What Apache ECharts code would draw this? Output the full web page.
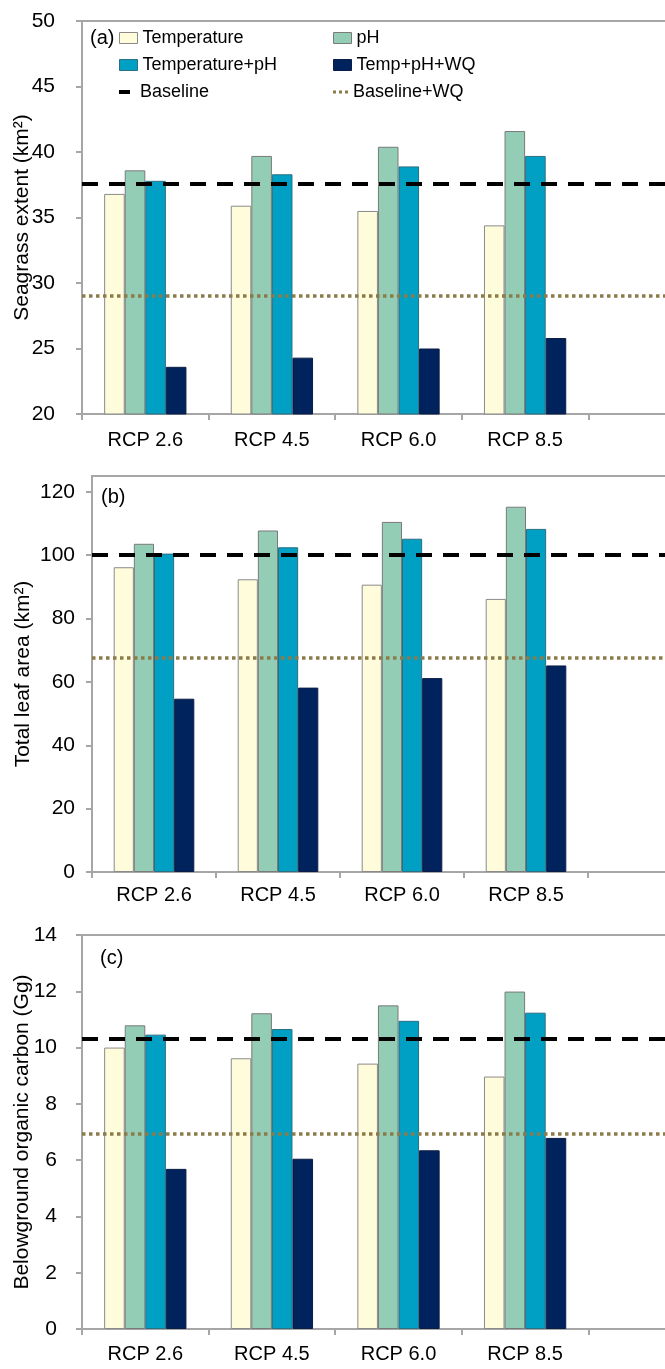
<!DOCTYPE html>
<html>
<head>
<meta charset="utf-8">
<style>
  html, body { margin: 0; padding: 0; background: #ffffff; overflow: hidden; width: 665px; height: 1369px; }
  #chart { width: 725px; height: 1369px; }
</style>
<script src="https://cdn.jsdelivr.net/npm/echarts@6/dist/echarts.min.js"></script>
</head>
<body>
<div id="chart"></div>
<script>
// ---------- data ----------
const categories = ['RCP 2.6', 'RCP 4.5', 'RCP 6.0', 'RCP 8.5'];
const seriesNames = ['Temperature', 'pH', 'Temperature+pH', 'Temp+pH+WQ'];
const lineNames = ['Baseline', 'Baseline+WQ'];

// (a) Seagrass extent (km²)
const tempA = [36.8, 35.9, 35.5, 34.4];
const phA   = [38.6, 39.7, 40.4, 41.6];
const tphA  = [37.8, 38.3, 38.9, 39.7];
const wqA   = [23.6, 24.3, 25.0, 25.8];
const baselineA   = 37.6;
const baselineWqA = 29.05;
const ticksA = [20, 25, 30, 35, 40, 45, 50];

// (b) Total leaf area (km²)
const tempB = [96.2, 92.4, 90.7, 86.2];
const phB   = [103.6, 107.8, 110.5, 115.3];
const tphB  = [100.5, 102.5, 105.2, 108.3];
const wqB   = [54.7, 58.2, 61.2, 65.2];
const baselineB   = 100;
const baselineWqB = 67.6;
const ticksB = [0, 20, 40, 60, 80, 100, 120];

// (c) Belowground organic carbon (Gg)
const tempC = [10.0, 9.62, 9.43, 8.97];
const phC   = [10.79, 11.22, 11.5, 11.99];
const tphC  = [10.46, 10.66, 10.95, 11.24];
const wqC   = [5.69, 6.05, 6.35, 6.79];
const baselineC   = 10.33;
const baselineWqC = 6.95;
const ticksC = [0, 2, 4, 6, 8, 10, 12, 14];

const panelLetters = ['(a)', '(b)', '(c)'];
const axisNames = ['Seagrass extent (km\u00B2)', 'Total leaf area (km\u00B2)', 'Belowground organic carbon (Gg)'];

// ---------- styling ----------
const FONT = 'Liberation Sans, Arial, sans-serif';
const GREY = '#A6A6A6';
const barColors = ['#FFFCDC', '#94CDB6', '#00A0C4', '#00235D'];
const barBorders = ['#8a8a8a', '#7a7a7a', '#2a6f82', '#0b1d45'];
const baseColor = '#000000';
const baseWqColor = '#8C7B4A';

const panels = [
  { bars: [tempA, phA, tphA, wqA], base: baselineA, baseWq: baselineWqA, ticks: ticksA,
    min: 20, max: 50, interval: 5,
    grid: { left: 82, top: 21, width: 633, height: 393 }, labelMargin: 27, nameGap: 49, xMargin: 16,
    letter: { dx: 8, dy: 7 } },
  { bars: [tempB, phB, tphB, wqB], base: baselineB, baseWq: baselineWqB, ticks: ticksB,
    min: 0, max: 125, interval: 20,
    grid: { left: 92, top: 476, width: 620, height: 396 }, labelMargin: 17, nameGap: 58, xMargin: 13,
    letter: { dx: 9, dy: 11 } },
  { bars: [tempC, phC, tphC, wqC], base: baselineC, baseWq: baselineWqC, ticks: ticksC,
    min: 0, max: 14, interval: 2,
    grid: { left: 82, top: 935, width: 633, height: 394 }, labelMargin: 25, nameGap: 49, xMargin: 15,
    letter: { dx: 18, dy: 13 } }
];

// one extra empty slot: the original figure continues past the right edge
const axisCats = categories.concat(['']);

const grids = [], xAxes = [], yAxes = [], series = [], titles = [];
panels.forEach((p, i) => {
  grids.push(Object.assign({ show: true, borderColor: GREY, borderWidth: 2, backgroundColor: 'transparent',
    containLabel: false, outerBoundsMode: 'none' }, p.grid));
  xAxes.push({
    type: 'category', gridIndex: i, data: axisCats,
    axisLine: { show: true, lineStyle: { color: GREY, width: 2 } },
    axisTick: { show: true, interval: 0, length: 6, lineStyle: { color: GREY, width: 2 } },
    axisLabel: { interval: 0, color: '#000', fontSize: 20, fontFamily: FONT, margin: p.xMargin },
    splitLine: { show: false }
  });
  yAxes.push({
    type: 'value', gridIndex: i, min: p.min, max: p.max, interval: p.interval,
    name: axisNames[i], nameLocation: 'middle', nameGap: p.nameGap, nameMoveOverlap: false,
    nameTextStyle: { color: '#000', fontSize: 21, fontFamily: FONT },
    axisLine: { show: true, lineStyle: { color: GREY, width: 2 } },
    axisTick: { show: true, length: 6, lineStyle: { color: GREY, width: 2 }, customValues: p.ticks },
    axisLabel: { color: '#000', fontSize: 21, fontFamily: FONT, margin: p.labelMargin, customValues: p.ticks },
    splitLine: { show: false }
  });
  titles.push({
    text: panelLetters[i],
    left: p.grid.left + p.letter.dx,
    top: p.grid.top + p.letter.dy,
    padding: 0,
    textStyle: { color: '#000', fontSize: 20, fontWeight: 'normal', fontFamily: FONT }
  });
  p.bars.forEach((vals, k) => {
    series.push({
      name: seriesNames[k], type: 'bar', xAxisIndex: i, yAxisIndex: i,
      data: vals, barGap: '0%', barCategoryGap: '35%',
      itemStyle: { color: barColors[k], borderColor: barBorders[k], borderWidth: 1 },
      emphasis: { disabled: true }, z: 2
    });
  });
  series.push({
    name: lineNames[0], type: 'line', xAxisIndex: i, yAxisIndex: i, data: [],
    color: baseColor, itemStyle: { color: baseColor }, lineStyle: { color: baseColor },
    z: 5,
    markLine: {
      silent: true, symbol: 'none', label: { show: false },
      lineStyle: { color: baseColor, width: 4, type: [16, 11] },
      data: [{ yAxis: p.base }], animation: false, z: 5
    }
  });
  series.push({
    name: lineNames[1], type: 'line', xAxisIndex: i, yAxisIndex: i, data: [],
    color: baseWqColor, itemStyle: { color: baseWqColor }, lineStyle: { color: baseWqColor },
    z: 5,
    markLine: {
      silent: true, symbol: 'none', label: { show: false },
      lineStyle: { color: baseWqColor, width: 3.5, type: [3.5, 3.5] },
      data: [{ yAxis: p.baseWq }], animation: false, z: 5
    }
  });
});

// legend: 3 rows x 2 columns inside panel (a)
const legendText = { color: '#000', fontSize: 18, fontFamily: FONT };
const rowTop = [29, 56, 83];
const colLeft = [119, 333];
function barLegend(name, k, r, c) {
  return {
    data: [name], left: colLeft[c], top: rowTop[r], padding: 0,
    icon: 'rect', itemWidth: 18, itemHeight: 11, textStyle: legendText,
    itemStyle: { color: barColors[k], borderColor: barBorders[k], borderWidth: 1 },
    selectedMode: false
  };
}
const legends = [
  barLegend(seriesNames[0], 0, 0, 0),
  barLegend(seriesNames[1], 1, 0, 1),
  barLegend(seriesNames[2], 2, 1, 0),
  barLegend(seriesNames[3], 3, 1, 1),
  { data: [lineNames[0]], left: colLeft[0], top: rowTop[2], padding: 0,
    icon: 'rect', itemWidth: 11, itemHeight: 4,
    itemStyle: { color: baseColor, borderWidth: 0 }, lineStyle: { opacity: 0 },
    textStyle: Object.assign({ padding: [0, 0, 0, 5] }, legendText), selectedMode: false },
  { data: [lineNames[1]], left: colLeft[1], top: rowTop[2], padding: 0,
    icon: 'path://M0,0h3v3h-3zM6,0h3v3h-3zM12,0h3v3h-3z', itemWidth: 15, itemHeight: 3,
    itemStyle: { color: baseWqColor, borderWidth: 0 }, lineStyle: { opacity: 0 },
    textStyle: legendText, selectedMode: false }
];

const chart = echarts.init(document.getElementById('chart'), null, { renderer: 'canvas' });
chart.setOption({
  animation: false,
  backgroundColor: '#ffffff',
  textStyle: { fontFamily: FONT },
  title: titles,
  legend: legends,
  grid: grids,
  xAxis: xAxes,
  yAxis: yAxes,
  series: series
});
</script>
</body>
</html>
